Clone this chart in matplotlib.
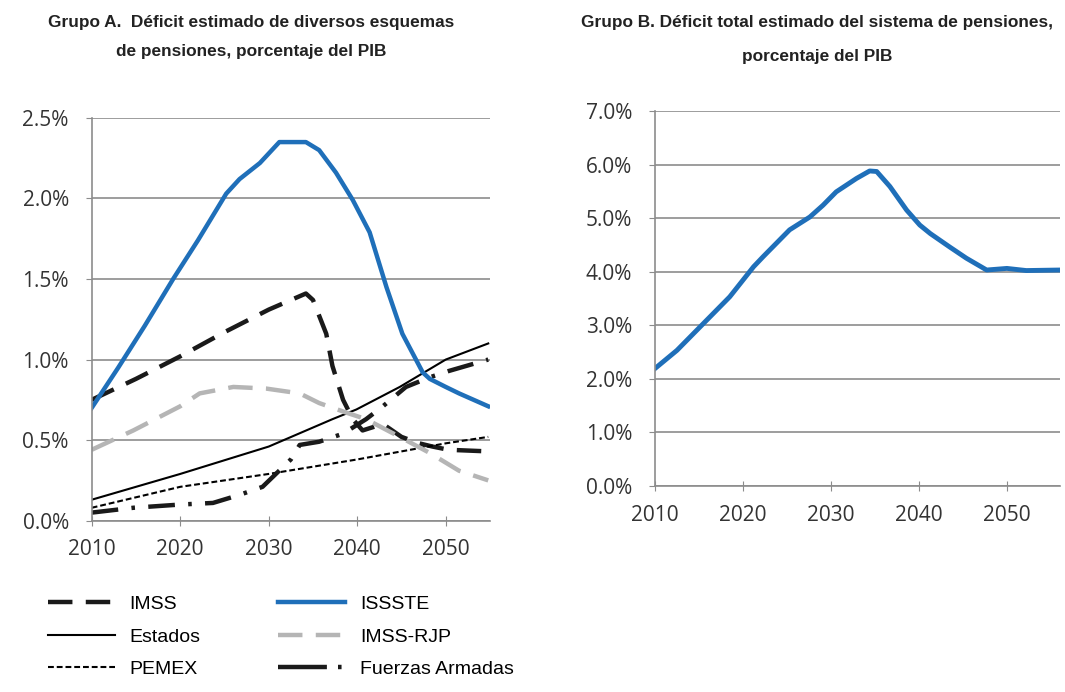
import matplotlib
matplotlib.use('Agg')
import matplotlib.pyplot as plt
from matplotlib.lines import Line2D
from matplotlib.ticker import FuncFormatter, MultipleLocator

# Grupo A: deficit by scheme, % of GDP
yr_issste = [2010, 2013, 2016, 2019.2, 2022, 2025.2, 2026.7, 2029, 2031.2, 2034.2, 2035.7, 2037.6,
             2039.5, 2041.4, 2043.3, 2045.1, 2047.4, 2048.2, 2050, 2051.5, 2054.8]
issste = [0.70, 0.95, 1.21, 1.50, 1.74, 2.03, 2.12, 2.22, 2.35, 2.35, 2.30, 2.16,
          1.99, 1.79, 1.45, 1.16, 0.92, 0.88, 0.83, 0.79, 0.71]

yr_imss = [2010, 2015, 2020, 2025, 2030, 2034.2, 2035, 2036.5, 2037.2, 2038.4, 2039.5, 2040.6,
           2042.9, 2045, 2047, 2048.5, 2050.3, 2054.8]
imss = [0.75, 0.88, 1.02, 1.17, 1.31, 1.41, 1.37, 1.16, 0.96, 0.75, 0.63, 0.56,
        0.60, 0.52, 0.48, 0.46, 0.44, 0.43]

yr_rjp = [2010, 2014.7, 2020, 2022.2, 2026, 2029.7, 2033.5, 2035.7, 2038.8, 2041, 2044.8,
          2048.2, 2051.5, 2054.8]
rjp = [0.44, 0.56, 0.71, 0.79, 0.83, 0.82, 0.79, 0.73, 0.67, 0.63, 0.52,
       0.42, 0.31, 0.25]

yr_estados = [2010, 2020, 2030, 2037.2, 2039.9, 2044.8, 2050, 2054.8]
estados = [0.13, 0.29, 0.46, 0.63, 0.69, 0.83, 1.00, 1.10]

yr_pemex = [2010, 2020, 2030, 2040, 2050, 2054.8]
pemex = [0.08, 0.21, 0.29, 0.38, 0.48, 0.52]

yr_fa = [2010, 2014.7, 2020, 2023.7, 2026.7, 2029.3, 2032.5, 2033.5, 2035.7, 2038.4, 2041,
         2042.9, 2045.5, 2048.2, 2050.4, 2054.8]
fa = [0.05, 0.08, 0.10, 0.11, 0.16, 0.21, 0.38, 0.47, 0.49, 0.54, 0.63,
      0.71, 0.83, 0.89, 0.93, 1.00]

# Grupo B: total deficit
yr_total = [2010, 2012.5, 2015.5, 2018.5, 2021.2, 2022.3, 2025.3, 2027.6, 2029.1, 2030.6, 2032.9,
            2034.4, 2035.2, 2036.7, 2038.6, 2040.1, 2041.3, 2043.5, 2045.4, 2047.7, 2050,
            2052.2, 2056]
total = [2.19, 2.53, 3.03, 3.53, 4.09, 4.28, 4.78, 5.02, 5.24, 5.49, 5.74,
         5.88, 5.87, 5.59, 5.15, 4.87, 4.71, 4.46, 4.25, 4.03, 4.06,
         4.02, 4.03]

xticks = [2010, 2020, 2030, 2040, 2050]
blue = '#1f6fb9'
grid = '#8c8c8c'
tickfont = 'Open Sans'
textfont = ['Liberation Sans', 'DejaVu Sans']

fig = plt.figure(figsize=(10.65, 6.92), dpi=100)
ax1 = fig.add_axes([0.0861, 0.2476, 0.374, 0.582])
ax2 = fig.add_axes([0.615, 0.298, 0.38, 0.5416])


def style(ax, ymax, step, fmt):
    ax.set_ylim(0, ymax)
    ax.yaxis.set_major_locator(MultipleLocator(step))
    ax.yaxis.set_major_formatter(FuncFormatter(lambda v, p: fmt % v))
    ax.set_xticks(xticks)
    ax.grid(axis='y', color=grid, lw=1.2)
    ax.set_axisbelow(True)
    for s in ['top', 'right']:
        ax.spines[s].set_visible(False)
    for s in ['left', 'bottom']:
        ax.spines[s].set_color(grid)
        ax.spines[s].set_linewidth(1.2)
    ax.tick_params(axis='x', direction='inout', length=7, color=grid, pad=10)
    ax.tick_params(axis='y', length=4.5, color=grid, pad=12)
    for lab in ax.get_xticklabels() + ax.get_yticklabels():
        lab.set_fontfamily(tickfont)
        lab.set_fontsize(15)
        lab.set_color('#333333')


ax1.plot(yr_imss, imss, color='#1a1a1a', lw=3.2, dashes=(5.5, 3), label='IMSS')
ax1.plot(yr_estados, estados, color='black', lw=1.5, label='Estados')
ax1.plot(yr_pemex, pemex, color='black', lw=1.5, dashes=(2.8, 1.4), label='PEMEX')
ax1.plot(yr_rjp, rjp, color='#b5b5b5', lw=3.2, dashes=(5.5, 3), label='IMSS-RJP')
ax1.plot(yr_fa, fa, color='#1a1a1a', lw=3.2, dashes=(6, 3, 0.8, 3), label='Fuerzas Armadas')
ax1.plot(yr_issste, issste, color=blue, lw=3.2, label='ISSSTE')
ax1.set_xlim(2010, 2055)
style(ax1, 2.5, 0.5, '%.1f%%')

ax2.plot(yr_total, total, color=blue, lw=3.5)
ax2.set_xlim(2010, 2056)
style(ax2, 7.0, 1.0, '%.1f%%')

h, l = ax1.get_legend_handles_labels()
# legend key for Fuerzas Armadas: one long dash and a dot, as in the reference
h[l.index('Fuerzas Armadas')] = Line2D([], [], color='#1a1a1a', lw=3.2, dashes=(11, 2.5, 0.8, 6))
order = ['IMSS', 'Estados', 'PEMEX', 'ISSSTE', 'IMSS-RJP', 'Fuerzas Armadas']
hs = [h[l.index(o)] for o in order]
fig.legend(hs, order, ncol=2, loc='upper left', bbox_to_anchor=(0.0285, 0.165),
           frameon=False, handlelength=3.45, handletextpad=0.75, columnspacing=4.0,
           labelspacing=0.77, prop={'family': textfont, 'size': 14})

tkw = dict(ha='center', va='center', fontsize=12.4, fontweight='bold', family=textfont, color='#222222')
fig.text(0.236, 0.968, 'Grupo A.  Déficit estimado de diversos esquemas', **tkw)
fig.text(0.236, 0.925, 'de pensiones, porcentaje del PIB', **tkw)
fig.text(0.7676, 0.968, 'Grupo B. Déficit total estimado del sistema de pensiones,', **tkw)
fig.text(0.7676, 0.918, 'porcentaje del PIB', **tkw)

fig.savefig('out.png', dpi=100)
